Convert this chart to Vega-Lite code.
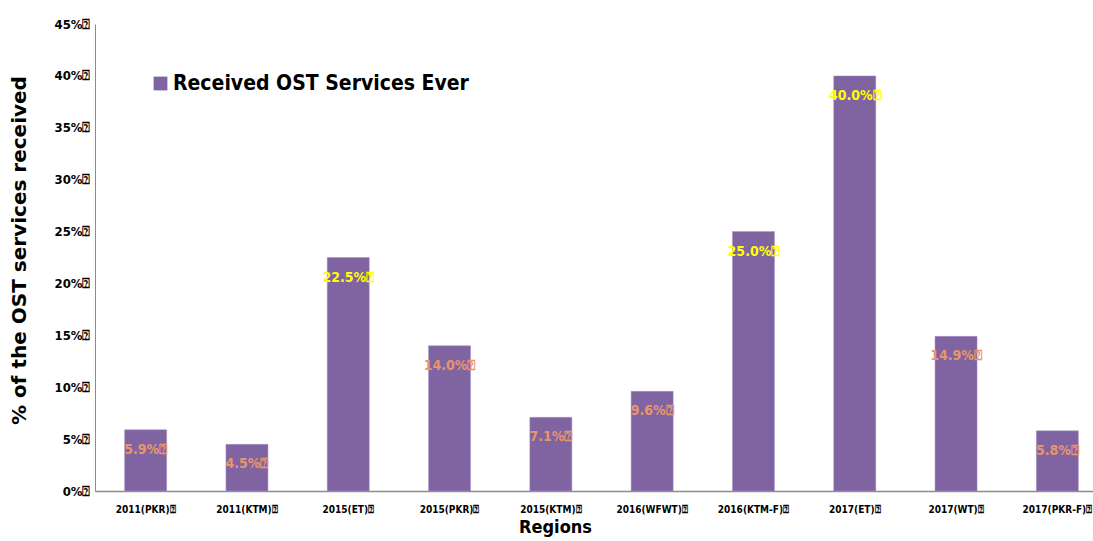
{
  "$schema": "https://vega.github.io/schema/vega-lite/v6.json",
  "autosize": {"type": "none"},
  "width": 1013,
  "height": 467,
  "padding": {"left": 95, "top": 24, "right": 0, "bottom": 50},
  "background": "white",
  "config": {"view": {"stroke": null}},
  "data": {
    "values": [
      {"region": "2011(PKR)", "value": 5.9, "series": "Received OST Services Ever"},
      {"region": "2011(KTM)", "value": 4.5, "series": "Received OST Services Ever"},
      {"region": "2015(ET)", "value": 22.5, "series": "Received OST Services Ever"},
      {"region": "2015(PKR)", "value": 14.0, "series": "Received OST Services Ever"},
      {"region": "2015(KTM)", "value": 7.1, "series": "Received OST Services Ever"},
      {"region": "2016(WFWT)", "value": 9.6, "series": "Received OST Services Ever"},
      {"region": "2016(KTM-F)", "value": 25.0, "series": "Received OST Services Ever"},
      {"region": "2017(ET)", "value": 40.0, "series": "Received OST Services Ever"},
      {"region": "2017(WT)", "value": 14.9, "series": "Received OST Services Ever"},
      {"region": "2017(PKR-F)", "value": 5.8, "series": "Received OST Services Ever"}
    ]
  },
  "transform": [
    {"calculate": "format(datum.value, '.1f') + '%⍰'", "as": "label"}
  ],
  "encoding": {
    "x": {
      "field": "region", "type": "nominal", "sort": null,
      "scale": {"paddingInner": 0.585, "paddingOuter": 0.2925},
      "axis": {
        "title": "Regions", "labelAngle": 0,
        "labelExpr": "datum.label + '⍰'",
        "labelFont": "'DejaVu Sans Condensed', 'Liberation Sans'", "labelFontSize": 10, "labelFontWeight": "bold", "labelColor": "#000",
        "labelPadding": 13, "ticks": false,
        "domainColor": "#8c8c8c", "domainWidth": 1.5,
        "titleFont": "'DejaVu Sans Condensed', 'Liberation Sans'", "titleFontSize": 18, "titleFontWeight": "bold", "titleColor": "#000",
        "titlePadding": 4, "titleX": 460
      }
    },
    "y": {
      "field": "value", "type": "quantitative",
      "scale": {"domain": [0, 45], "nice": false},
      "axis": {
        "title": "% of the OST services received",
        "values": [0, 5, 10, 15, 20, 25, 30, 35, 40, 45],
        "labelExpr": "datum.value + '%⍰'",
        "labelFont": "'DejaVu Sans Condensed', 'Liberation Sans'", "labelFontSize": 13, "labelFontWeight": "bold", "labelColor": "#000",
        "labelPadding": 5, "ticks": false, "grid": false,
        "domainColor": "#8c8c8c", "domainWidth": 1,
        "titleFont": "DejaVu Sans", "titleFontSize": 20, "titleFontWeight": "bold", "titleColor": "#000",
        "titleX": -76, "titleY": 226, "titleBaseline": "middle"
      }
    }
  },
  "layer": [
    {
      "mark": {"type": "bar", "color": "#8064A2", "stroke": "#a994c4", "strokeWidth": 0.5},
      "encoding": {
        "color": {
          "field": "series", "type": "nominal",
          "scale": {"range": ["#8064A2"]},
          "legend": {
            "title": null, "orient": "none", "legendX": 55, "legendY": 49,
            "symbolType": "square", "symbolSize": 190, "symbolStrokeWidth": 0,
            "labelFont": "'DejaVu Sans Condensed', 'Liberation Sans'", "labelFontSize": 21, "labelFontWeight": "bold", "labelColor": "#000",
            "labelOffset": 2, "labelLimit": 500
          }
        }
      }
    },
    {
      "mark": {"type": "text", "baseline": "middle", "align": "center", "dy": 20, "font": "'DejaVu Sans Condensed', 'Liberation Sans'", "fontSize": 14, "fontWeight": "bold"},
      "encoding": {
        "text": {"field": "label"},
        "color": {"condition": {"test": "datum.value >= 20", "value": "#FFFF00"}, "value": "#E8956B"}
      }
    }
  ]
}
